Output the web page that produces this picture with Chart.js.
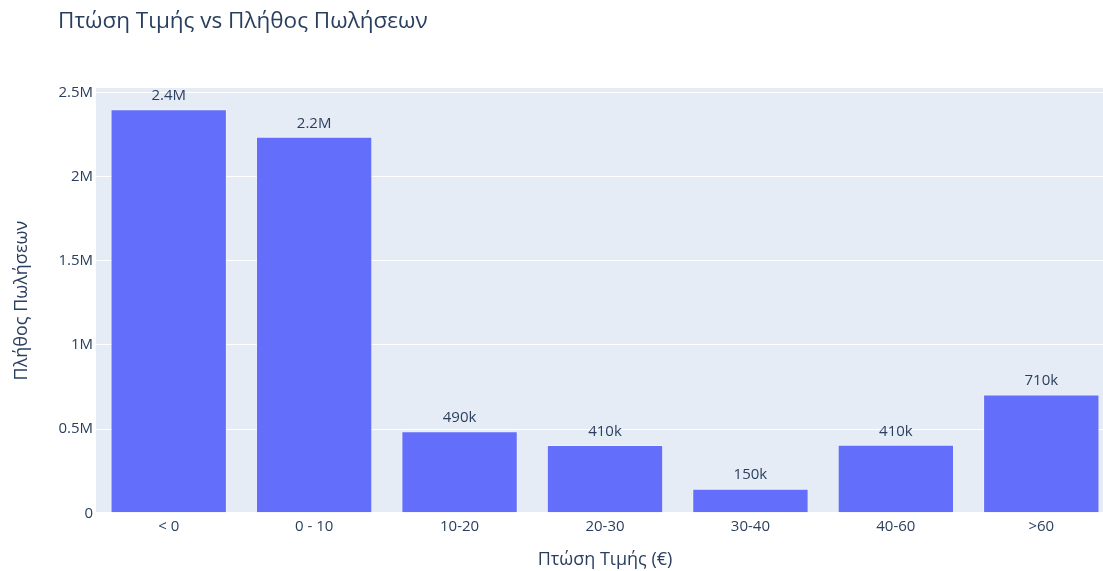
<!DOCTYPE html>
<html>
<head>
<meta charset="utf-8">
<script src="https://cdn.jsdelivr.net/npm/chart.js@4"></script>
<style>
  html, body { margin: 0; padding: 0; background: #fff; overflow: hidden; }
  .wrapper { width: 1125px; height: 571px; position: relative; }
</style>
</head>
<body>
<div class="wrapper"><canvas id="myChart" width="1125" height="571"></canvas></div>
<script>
const categories = ['< 0', '0 - 10', '10-20', '20-30', '30-40', '40-60', '>60'];
const sales = [2400000, 2236000, 487000, 406000, 146000, 407000, 706000];
const yTicks = [0, 500000, 1000000, 1500000, 2000000, 2500000];

const FONT = '"Open Sans", verdana, arial, sans-serif';
const INK = '#2a3f5f';

// 2 significant digits with k / M suffix
const fmt = v => {
   if (v === 0) return '0';
   if (v >= 1e6) return parseFloat((v / 1e6).toPrecision(2)) + 'M';
   if (v >= 1e3) return parseFloat((v / 1e3).toPrecision(2)) + 'k';
   return String(v);
};
// axis ticks all share the M suffix
const fmtTick = v => (v === 0 ? '0' : v / 1e6 + 'M');

const chart_bg = {
   id: 'chart_bg',
   beforeDraw(chart) {
      const { ctx, chartArea: a } = chart;
      ctx.save();
      ctx.fillStyle = '#e5ecf6';
      ctx.fillRect(a.left, a.top, a.right - a.left, a.bottom - a.top);
      ctx.restore();
   },
   afterDraw(chart) {
      const ctx = chart.ctx;
      ctx.save();
      ctx.fillStyle = INK;
      ctx.font = '22.5px ' + FONT;
      ctx.textBaseline = 'alphabetic';
      ctx.fillText('Πτώση Τιμής vs Πλήθος Πωλήσεων', 58, 28);
      ctx.restore();
   }
};

const bar_labels = {
   id: 'bar_labels',
   afterDatasetsDraw(chart) {
      const ctx = chart.ctx;
      const meta = chart.getDatasetMeta(0);
      ctx.save();
      ctx.fillStyle = INK;
      ctx.font = '15px ' + FONT;
      ctx.textAlign = 'center';
      ctx.textBaseline = 'middle';
      meta.data.forEach((bar, i) => {
         ctx.fillText(fmt(sales[i]), bar.x, bar.y - 13.5);
      });
      ctx.restore();
   }
};

new Chart(document.getElementById('myChart'), {
   type: 'bar',
   data: {
      labels: categories,
      datasets: [{
         data: sales,
         backgroundColor: '#636efa',
         borderColor: 'rgba(255,255,255,0.35)',
         borderWidth: 1,
         barPercentage: 0.8,
         categoryPercentage: 1
      }]
   },
   options: {
      responsive: false,
      animation: false,
      devicePixelRatio: 1,
      layout: { padding: { top: 88, right: 11, left: 0, bottom: 0 } },
      plugins: {
         legend: { display: false },
         tooltip: { enabled: false }
      },
      scales: {
         x: {
            grid: { display: false, drawTicks: false },
            border: { display: false },
            ticks: { color: INK, font: { family: FONT, size: 15 }, padding: 4 },
            title: {
               display: true,
               text: 'Πτώση Τιμής (€)',
               color: INK,
               font: { family: FONT, size: 18 },
               padding: { top: 6, bottom: 0 }
            },
            afterFit(scale) { scale.height = 571 - 513.3; }
         },
         y: {
            min: 0,
            max: 2525600,
            afterBuildTicks(scale) { scale.ticks = yTicks.map(v => ({ value: v })); },
            grid: {
               color: '#ffffff',
               lineWidth: ctx => (ctx.tick && ctx.tick.value === 0 ? 2 : 1),
               drawTicks: false
            },
            border: { display: false },
            ticks: {
               color: INK,
               font: { family: FONT, size: 15 },
               padding: 3,
               callback: v => fmtTick(v)
            },
            title: {
               display: true,
               text: 'Πλήθος Πωλήσεων',
               color: INK,
               font: { family: FONT, size: 18 },
               padding: { top: 11, bottom: 0 }
            },
            afterFit(scale) { scale.width = 96; }
         }
      }
   },
   plugins: [chart_bg, bar_labels]
});
</script>
</body>
</html>
